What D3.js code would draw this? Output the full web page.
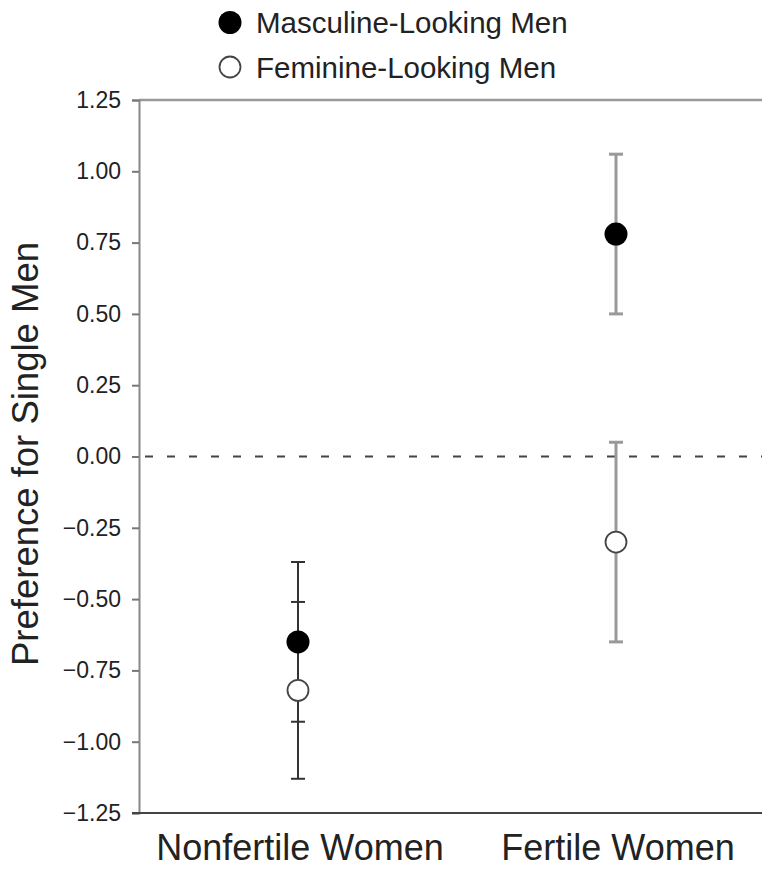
<!DOCTYPE html>
<html>
<head>
<meta charset="utf-8">
<script src="https://cdn.jsdelivr.net/npm/d3@7"></script>
<style>
  body { margin: 0; background: #fff; }
  text { font-family: "Liberation Sans", Arial, sans-serif; fill: #222; }
</style>
</head>
<body>
<div class="chart"></div>
<script>
(function() {

// data
  var categories = ['Nonfertile Women', 'Fertile Women'];
  var masculineMean = [-0.65, 0.78];
  var masculineErr = [0.28, 0.28];
  var feminineMean = [-0.82, -0.30];
  var feminineErr = [0.31, 0.35];
  var yTicks = [-1.25, -1.00, -0.75, -0.50, -0.25, 0.00, 0.25, 0.50, 0.75, 1.00, 1.25];
  var seriesNames = ['Masculine-Looking Men', 'Feminine-Looking Men'];

  var barColors = ['#333', '#999'];

  var width = 762, height = 869;
  var left = 139, top = 100, bottom = 813;

  var svg = d3.select('.chart')
    .append('svg')
    .attr('width', width)
    .attr('height', height);

  var y = d3.scaleLinear().domain([-1.25, 1.25]).range([bottom, top]);
  var x = d3.scalePoint().domain(categories).range([left, 775]).padding(0.5);

// top frame line
  svg.append('line')
    .attr('x1', left).attr('x2', width)
    .attr('y1', y(1.25)).attr('y2', y(1.25))
    .attr('stroke', '#999')
    .attr('stroke-width', 2.5);

// zero reference line
  svg.append('line')
    .attr('x1', left).attr('x2', width)
    .attr('y1', y(0)).attr('y2', y(0))
    .attr('stroke', '#444')
    .attr('stroke-width', 2)
    .attr('stroke-dasharray', '8,14')
    .attr('stroke-dashoffset', -6);

// y axis
  var yAxis = d3.axisLeft(y)
    .tickValues(yTicks)
    .tickFormat(d3.format('.2f'))
    .tickSize(7)
    .tickPadding(11);

  var gy = svg.append('g')
    .attr('transform', 'translate(' + left + ',0)')
    .call(yAxis);
  gy.select('.domain').attr('stroke', '#888').attr('stroke-width', 2);
  gy.selectAll('.tick line').attr('stroke', '#777').attr('stroke-width', 2);
  gy.selectAll('.tick text')
    .style('font-size', '23px')
    .attr('fill', '#333');

// bottom axis line
  svg.append('line')
    .attr('x1', left - 7).attr('x2', width)
    .attr('y1', bottom).attr('y2', bottom)
    .attr('stroke', '#444')
    .attr('stroke-width', 2);

// category labels
  svg.selectAll('.cat').data(categories).enter()
    .append('text')
    .attr('class', 'cat')
    .attr('x', function(d){ return x(d) + 2; })
    .attr('y', 860)
    .attr('text-anchor', 'middle')
    .style('font-size', '36px')
    .text(function(d){ return d; });

// y title
  svg.append('text')
    .attr('transform', 'translate(38,454) rotate(-90)')
    .attr('text-anchor', 'middle')
    .style('font-size', '36.5px')
    .text('Preference for Single Men');

// error bars
  var bars = [];
  categories.forEach(function(c, i) {
    bars.push({cat: c, i: i, lo: masculineMean[i] - masculineErr[i], hi: masculineMean[i] + masculineErr[i]});
    bars.push({cat: c, i: i, lo: feminineMean[i] - feminineErr[i], hi: feminineMean[i] + feminineErr[i]});
  });

  var capW = 7;
  var eb = svg.selectAll('.eb').data(bars).enter()
    .append('g')
    .attr('class', 'eb')
    .attr('stroke', function(d){ return barColors[d.i]; })
    .attr('stroke-width', function(d){ return d.i === 0 ? 2 : 3; });
  eb.append('line')
    .attr('x1', function(d){ return x(d.cat); })
    .attr('x2', function(d){ return x(d.cat); })
    .attr('y1', function(d){ return y(d.hi); })
    .attr('y2', function(d){ return y(d.lo); });
  eb.append('line')
    .attr('x1', function(d){ return x(d.cat) - capW; })
    .attr('x2', function(d){ return x(d.cat) + capW; })
    .attr('y1', function(d){ return y(d.hi); })
    .attr('y2', function(d){ return y(d.hi); });
  eb.append('line')
    .attr('x1', function(d){ return x(d.cat) - capW; })
    .attr('x2', function(d){ return x(d.cat) + capW; })
    .attr('y1', function(d){ return y(d.lo); })
    .attr('y2', function(d){ return y(d.lo); });

// points
  svg.selectAll('.fem').data(categories).enter()
    .append('circle')
    .attr('class', 'fem')
    .attr('cx', function(d){ return x(d); })
    .attr('cy', function(d, i){ return y(feminineMean[i]); })
    .attr('r', 10.5)
    .attr('fill', '#fff')
    .attr('stroke', '#444')
    .attr('stroke-width', 1.8);

  svg.selectAll('.masc').data(categories).enter()
    .append('circle')
    .attr('class', 'masc')
    .attr('cx', function(d){ return x(d); })
    .attr('cy', function(d, i){ return y(masculineMean[i]); })
    .attr('r', 11.5)
    .attr('fill', '#000');

// legend
  var legend = svg.selectAll('.legend').data(seriesNames).enter()
    .append('g')
    .attr('class', 'legend')
    .attr('transform', function(d, i){ return 'translate(230,' + (22.5 + i * 44.5) + ')'; });
  legend.append('circle')
    .attr('r', function(d, i){ return i === 0 ? 11.5 : 10.5; })
    .attr('fill', function(d, i){ return i === 0 ? '#000' : '#fff'; })
    .attr('stroke', function(d, i){ return i === 0 ? 'none' : '#444'; })
    .attr('stroke-width', 1.8);
  legend.append('text')
    .attr('x', 26)
    .attr('y', 10.5)
    .style('font-size', '29.5px')
    .text(function(d){ return d; });

})();
</script>
</body>
</html>
